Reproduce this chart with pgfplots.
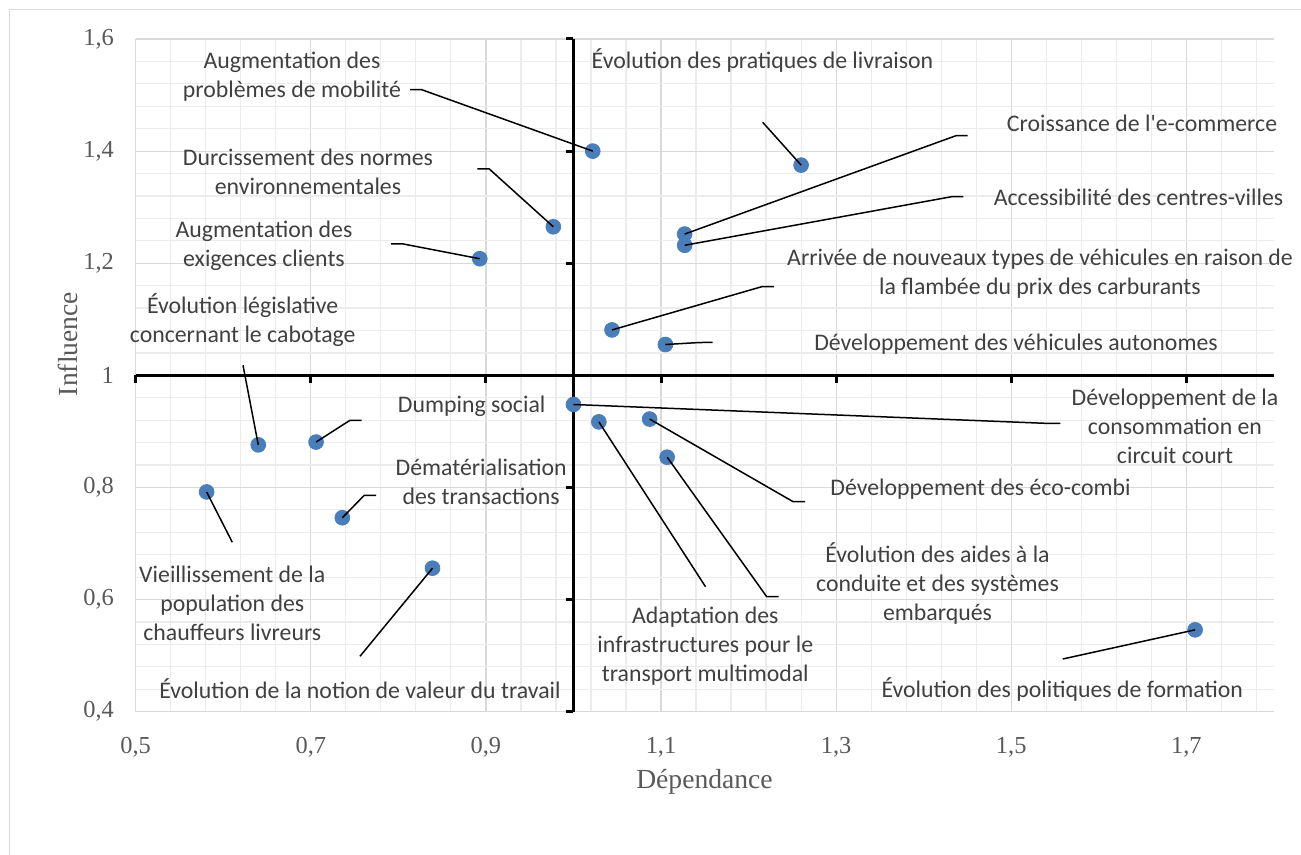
\documentclass[border=0pt]{standalone}
\usepackage{pgfplots}
\pgfplotsset{compat=1.18}
\usepackage{pgfplotstable}
\usepackage{fontspec}
\setmainfont{Carlito}
\newfontfamily\serifnum{Liberation Serif}
\definecolor{pt}{RGB}{74,126,187}
\definecolor{lbl}{RGB}{64,64,64}
\definecolor{tk}{RGB}{89,89,89}
\definecolor{gmaj}{RGB}{217,217,217}
\definecolor{gmin}{RGB}{236,236,236}

\pgfplotstableread{
x y
1.022 1.400
1.260 1.375
0.977 1.265
1.127 1.252
1.127 1.232
0.893 1.208
1.044 1.081
1.105 1.055
0.640 0.876
0.706 0.881
1.000 0.948
1.029 0.917
1.087 0.922
1.107 0.854
0.581 0.792
0.736 0.746
0.839 0.656
1.710 0.546
}\data

\begin{document}
\begin{tikzpicture}
\useasboundingbox (-67.85pt,-71.65pt) rectangle (582.65pt,355.85pt);
\begin{axis}[
 scale only axis, width=569.1pt, height=336.35pt,
 at={(0pt,0pt)}, anchor=south west,
 xmin=0.5, xmax=1.8, ymin=0.4, ymax=1.6,
 xtick={0.5,0.7,0.9,1.1,1.3,1.5,1.7},
 ytick={0.4,0.6,0.8,1.0,1.2,1.4,1.6},
 minor xtick={0.54,0.58,0.62,0.66,0.74,0.78,0.82,0.86,0.94,0.98,1.02,1.06,1.14,1.18,1.22,1.26,1.34,1.38,1.42,1.46,1.54,1.58,1.62,1.66,1.74,1.78},
 minor ytick={0.44,0.48,0.52,0.56,0.64,0.68,0.72,0.76,0.84,0.88,0.92,0.96,1.04,1.08,1.12,1.16,1.24,1.28,1.32,1.36,1.44,1.48,1.52,1.56},
 grid=both,
 major grid style={draw=gmaj, line width=0.6pt},
 minor grid style={draw=gmin, line width=0.6pt},
 axis line style={draw=none},
 tick style={draw=none},
 /pgf/number format/use comma,
 /pgf/number format/fixed,
 /pgf/number format/precision=1,
 /pgf/number format/assume math mode=true,
 tick label style={font=\serifnum\fontsize{12.2}{14}\selectfont, text=tk},
 xticklabel style={inner sep=0pt, anchor=north, yshift=-12.5pt},
 yticklabel style={inner sep=0pt, anchor=east, xshift=-10.7pt},
 clip=false,
]
% central axes crossing at (1,1)
\draw[black, line width=1.5pt] (axis cs:1,0.4) -- (axis cs:1,1.6);
\draw[black, line width=1.5pt] (axis cs:0.5,1) -- (axis cs:1.8,1);
\draw[black, line width=1.5pt] (axis cs:1,0.4) -- ++(-3.6pt,0pt);
\draw[black, line width=1.5pt] (axis cs:1,0.6) -- ++(-3.6pt,0pt);
\draw[black, line width=1.5pt] (axis cs:1,0.8) -- ++(-3.6pt,0pt);
\draw[black, line width=1.5pt] (axis cs:1,1.2) -- ++(-3.6pt,0pt);
\draw[black, line width=1.5pt] (axis cs:1,1.4) -- ++(-3.6pt,0pt);
\draw[black, line width=1.5pt] (axis cs:1,1.6) -- ++(-3.6pt,0pt);
\draw[black, line width=1.5pt] (axis cs:0.5,1) -- ++(0pt,-3.6pt);
\draw[black, line width=1.5pt] (axis cs:0.7,1) -- ++(0pt,-3.6pt);
\draw[black, line width=1.5pt] (axis cs:0.9,1) -- ++(0pt,-3.6pt);
\draw[black, line width=1.5pt] (axis cs:1.1,1) -- ++(0pt,-3.6pt);
\draw[black, line width=1.5pt] (axis cs:1.3,1) -- ++(0pt,-3.6pt);
\draw[black, line width=1.5pt] (axis cs:1.5,1) -- ++(0pt,-3.6pt);
\draw[black, line width=1.5pt] (axis cs:1.7,1) -- ++(0pt,-3.6pt);

\addplot[only marks, mark=*, mark size=3.7pt, mark options={draw=pt, fill=pt}] table {\data};

\coordinate (p1) at (axis cs:1.022,1.400);
\coordinate (p2) at (axis cs:1.260,1.375);
\coordinate (p3) at (axis cs:0.977,1.265);
\coordinate (p4) at (axis cs:1.127,1.252);
\coordinate (p5) at (axis cs:1.127,1.232);
\coordinate (p6) at (axis cs:0.893,1.208);
\coordinate (p7) at (axis cs:1.044,1.081);
\coordinate (p8) at (axis cs:1.105,1.055);
\coordinate (p9) at (axis cs:0.640,0.876);
\coordinate (p10) at (axis cs:0.706,0.881);
\coordinate (p11) at (axis cs:1.000,0.948);
\coordinate (p12) at (axis cs:1.029,0.917);
\coordinate (p13) at (axis cs:1.087,0.922);
\coordinate (p14) at (axis cs:1.107,0.854);
\coordinate (p15) at (axis cs:0.581,0.792);
\coordinate (p16) at (axis cs:0.736,0.746);
\coordinate (p17) at (axis cs:0.839,0.656);
\coordinate (p18) at (axis cs:1.710,0.546);
\end{axis}

\begin{scope}[x=0.5pt, y=-0.5pt, shift={(-67.85pt,355.85pt)}]
\draw[gmaj, line width=0.5pt] (10,880) -- (10,10) -- (1320,10);
\node[font=\serifnum\fontsize{13.8}{16}\selectfont, text=tk] at (704.5,782) {Dépendance};
\node[font=\serifnum\fontsize{13.8}{16}\selectfont, text=tk, rotate=90] at (68,344) {Influence};

\tikzset{lab/.style={font=\fontsize{11.9}{14.5}\selectfont, text=lbl, align=center, inner sep=0pt}}
\tikzset{ld/.style={draw=black, line width=0.75pt}}

\node[lab] at (292,77) {Augmentation des\\problèmes de mobilité};
\draw[ld] (410,89.7) -- (421.7,89.7) -- (p1);
\node[lab] at (762.5,60) {Évolution des pratiques de livraison};
\draw[ld] (762.7,122.3) -- (p2);
\node[lab] at (308,172) {Durcissement des normes\\environnementales};
\draw[ld] (477.3,169) -- (489.3,169) -- (p3);
\node[lab] at (1142,123) {Croissance de l{\textquotesingle}e-commerce};
\draw[ld] (967.7,135.7) -- (956,135.7) -- (p4);
\node[lab] at (1138.5,197) {Accessibilité des centres-villes};
\draw[ld] (963.3,196.7) -- (951.7,196.7) -- (p5);
\node[lab] at (264,246) {Augmentation des\\exigences clients};
\draw[ld] (391,244) -- (403.3,244) -- (p6);
\node[lab] at (1040,274) {Arrivée de nouveaux types de véhicules en raison de\\la flambée du prix des carburants};
\draw[ld] (773.9,286.7) -- (761.8,286.7) -- (p7);
\node[lab] at (1016,344) {Développement des véhicules autonomes};
\draw[ld] (712.7,342.3) -- (698,342.6) -- (p8);
\node[lab] at (242.7,320.5) {Évolution législative\\concernant le cabotage};
\draw[ld] (243,365.3) -- (p9);
\node[lab] at (471.7,406.7) {Dumping social};
\draw[ld] (361.7,420.3) -- (350,420.3) -- (p10);
\node[lab] at (1175,426) {Développement de la\\consommation en\\circuit court};
\draw[ld] (1060.4,423.5) -- (1045,423.3) -- (p11);
\node[lab] at (705.3,646.5) {Adaptation des\\infrastructures pour le\\transport multimodal};
\draw[ld] (705.5,586.7) -- (p12);
\node[lab] at (980.5,489.3) {Développement des éco-combi};
\draw[ld] (805.2,501.7) -- (793.1,501.7) -- (p13);
\node[lab] at (937.5,583.7) {Évolution des aides à la\\conduite et des systèmes\\embarqués};
\draw[ld] (778.7,596.7) -- (766.7,596.7) -- (p14);
\node[lab] at (232.3,603.3) {Vieillissement de la\\population des\\chauffeurs livreurs};
\draw[ld] (232.3,542.3) -- (p15);
\node[lab] at (481.2,481.7) {Dématérialisation\\des transactions};
\draw[ld] (376,495.3) -- (364.3,495.3) -- (p16);
\node[lab] at (360,688.3) {Évolution de la notion de valeur du travail};
\draw[ld] (360,656.3) -- (p17);
\node[lab] at (1062.3,689.3) {Évolution des politiques de formation};
\draw[ld] (1062.8,659) -- (p18);
\end{scope}
\end{tikzpicture}
\end{document}
